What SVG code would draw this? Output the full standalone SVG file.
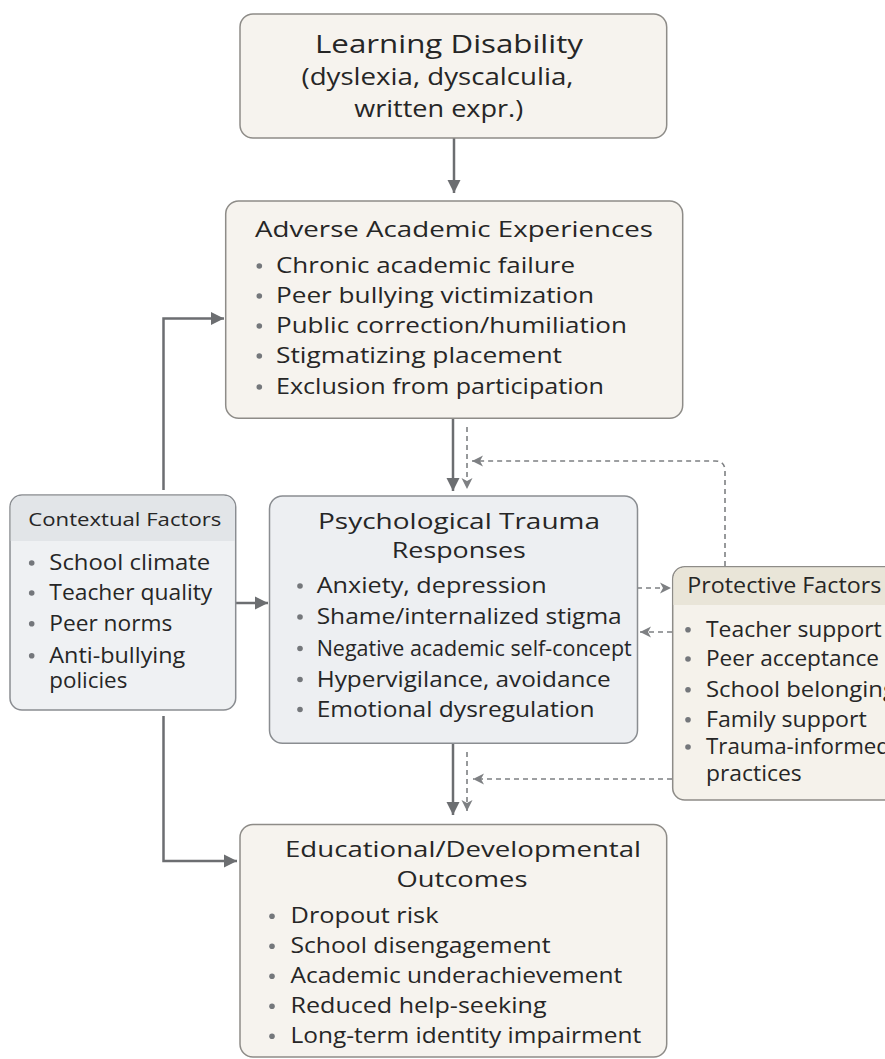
<svg xmlns="http://www.w3.org/2000/svg" width="885" height="1059" viewBox="0 0 885 1059">
<style>
  text { font-family: "Open Sans", "Noto Sans", "DejaVu Sans", sans-serif; fill: #262626; }
  .warm { fill: #f6f3ee; stroke: #8e8c88; stroke-width: 1.5; }
  .cool { fill: #edeff2; stroke: #8a8d91; stroke-width: 1.5; }
  .ctx { fill: #eff1f3; stroke: #8a8d91; stroke-width: 1.5; }
  .ctxh { fill: #e2e5e8; }
  .prot { fill: #f5f2eb; stroke: #8e8c88; stroke-width: 1.5; }
  .proth { fill: #e9e5d8; }
  .t1 { font-size: 25px; font-weight: 500; }
  .t2 { font-size: 23px; }
  .title { font-size: 22px; font-weight: 500; }
  .item { font-size: 21px; }
  .hdr { font-size: 19px; }
  .dot { fill: #74777b; }
  .solid { fill: none; stroke: #6c6e71; stroke-width: 2.5; }
  .dash { fill: none; stroke: #7e8083; stroke-width: 1.6; stroke-dasharray: 5 4; }
</style>
<defs>
  <marker id="arr" markerUnits="userSpaceOnUse" markerWidth="14" markerHeight="14" refX="13" refY="7" orient="auto">
    <path d="M0,0.5 L13,7 L0,13.5 z" fill="#6c6e71"/>
  </marker>
  <marker id="darr" markerUnits="userSpaceOnUse" markerWidth="12" markerHeight="12" refX="11" refY="6" orient="auto">
    <path d="M0,0.5 L11,6 L0,11.5 L3,6 z" fill="#7e8083"/>
  </marker>
</defs>
<rect width="885" height="1059" fill="#ffffff"/>

<g id="connectors">
  <line class="solid" x1="454" y1="138" x2="454" y2="193" marker-end="url(#arr)"/>
  <line class="solid" x1="453" y1="418" x2="453" y2="491" marker-end="url(#arr)"/>
  <line class="solid" x1="453" y1="743" x2="453" y2="815" marker-end="url(#arr)"/>
  <line class="dash" x1="467" y1="427" x2="467" y2="489" marker-end="url(#darr)"/>
  <line class="dash" x1="467" y1="752" x2="467" y2="811" marker-end="url(#darr)"/>
  <path class="dash" d="M725,566 V471 Q725,461 715,461 H472" marker-end="url(#darr)"/>
  <line class="dash" x1="672" y1="779" x2="473" y2="779" marker-end="url(#darr)"/>
  <circle cx="612" cy="588" r="3" fill="#6c6e71"/>
  <line x1="612" y1="588" x2="637" y2="588" stroke="#6c6e71" stroke-width="1.6"/>
  <line class="dash" x1="637" y1="588" x2="671" y2="588" marker-end="url(#darr)"/>
  <line class="dash" x1="672" y1="632" x2="640" y2="632" marker-end="url(#darr)"/>
  <path class="solid" d="M163.5,490 V318.5 H224" marker-end="url(#arr)"/>
  <path class="solid" d="M163.5,716 V861 H237" marker-end="url(#arr)"/>
  <line class="solid" x1="236" y1="603" x2="268" y2="603" marker-end="url(#arr)"/>
</g>

<g id="learning-disability">
  <rect class="warm" x="240" y="14" width="426.7" height="124" rx="13"/>
  <text class="t1" x="449" y="53" text-anchor="middle" textLength="268" lengthAdjust="spacingAndGlyphs">Learning Disability</text>
  <text class="t2" x="437.5" y="84.5" text-anchor="middle" textLength="272" lengthAdjust="spacingAndGlyphs">(dyslexia, dyscalculia,</text>
  <text class="t2" x="438.7" y="117" text-anchor="middle" textLength="169" lengthAdjust="spacingAndGlyphs">written expr.)</text>
</g>

<g id="adverse-experiences">
  <rect class="warm" x="225.7" y="201" width="457" height="217.3" rx="13"/>
  <text class="title" x="255" y="237" textLength="398" lengthAdjust="spacingAndGlyphs">Adverse Academic Experiences</text>
  <circle class="dot" cx="259.3" cy="266" r="2.8"/>
  <text class="item" x="276" y="273" textLength="299" lengthAdjust="spacingAndGlyphs">Chronic academic failure</text>
  <circle class="dot" cx="259.3" cy="296" r="2.8"/>
  <text class="item" x="276" y="303" textLength="318" lengthAdjust="spacingAndGlyphs">Peer bullying victimization</text>
  <circle class="dot" cx="259.3" cy="326" r="2.8"/>
  <text class="item" x="276" y="333" textLength="351" lengthAdjust="spacingAndGlyphs">Public correction/humiliation</text>
  <circle class="dot" cx="259.3" cy="356" r="2.8"/>
  <text class="item" x="276" y="363" textLength="286" lengthAdjust="spacingAndGlyphs">Stigmatizing placement</text>
  <circle class="dot" cx="259.3" cy="387" r="2.8"/>
  <text class="item" x="276" y="394" textLength="328" lengthAdjust="spacingAndGlyphs">Exclusion from participation</text>
</g>

<g id="contextual-factors">
  <rect class="ctx" x="10" y="495" width="225.7" height="215" rx="12"/>
  <path class="ctxh" d="M10.75,507 A11.25,11.25 0 0 1 22,495.75 H223.7 A11.25,11.25 0 0 1 234.95,507 V541 H10.75 z"/>
  <text class="hdr" x="28.3" y="525.7" textLength="193" lengthAdjust="spacingAndGlyphs">Contextual Factors</text>
  <circle class="dot" cx="31.7" cy="563" r="2.8"/>
  <text class="item" x="49.3" y="570" textLength="161" lengthAdjust="spacingAndGlyphs">School climate</text>
  <circle class="dot" cx="31.7" cy="593" r="2.8"/>
  <text class="item" x="49.3" y="600" textLength="163" lengthAdjust="spacingAndGlyphs">Teacher quality</text>
  <circle class="dot" cx="31.7" cy="623.7" r="2.8"/>
  <text class="item" x="49.3" y="630.7" textLength="123" lengthAdjust="spacingAndGlyphs">Peer norms</text>
  <circle class="dot" cx="31.7" cy="655.7" r="2.8"/>
  <text class="item" x="49.3" y="662.7" textLength="136" lengthAdjust="spacingAndGlyphs">Anti-bullying</text>
  <text class="item" x="49.3" y="688" textLength="78" lengthAdjust="spacingAndGlyphs">policies</text>
</g>

<g id="psychological-trauma">
  <rect class="cool" x="269.5" y="496" width="368" height="247.3" rx="13"/>
  <text class="title" x="459" y="529" text-anchor="middle" textLength="282" lengthAdjust="spacingAndGlyphs">Psychological Trauma</text>
  <text class="title" x="458.8" y="558" text-anchor="middle" textLength="134" lengthAdjust="spacingAndGlyphs">Responses</text>
  <circle class="dot" cx="300" cy="586" r="2.8"/>
  <text class="item" x="316.7" y="593" textLength="230" lengthAdjust="spacingAndGlyphs">Anxiety, depression</text>
  <circle class="dot" cx="300" cy="617" r="2.8"/>
  <text class="item" x="316.7" y="624" textLength="305" lengthAdjust="spacingAndGlyphs">Shame/internalized stigma</text>
  <circle class="dot" cx="300" cy="648.5" r="2.8"/>
  <text class="item" x="316.7" y="655.5" textLength="315" lengthAdjust="spacingAndGlyphs">Negative academic self-concept</text>
  <circle class="dot" cx="300" cy="679.5" r="2.8"/>
  <text class="item" x="316.7" y="686.5" textLength="294" lengthAdjust="spacingAndGlyphs">Hypervigilance, avoidance</text>
  <circle class="dot" cx="300" cy="709.5" r="2.8"/>
  <text class="item" x="316.7" y="716.5" textLength="278" lengthAdjust="spacingAndGlyphs">Emotional dysregulation</text>
</g>

<g id="protective-factors">
  <rect class="prot" x="672.7" y="566.7" width="240" height="233.3" rx="12"/>
  <path class="proth" d="M673.45,578.7 A11.25,11.25 0 0 1 684.7,567.45 H912 V605 H673.45 z"/>
  <text class="item" x="687.3" y="593.3" textLength="194" lengthAdjust="spacingAndGlyphs">Protective Factors</text>
  <circle class="dot" cx="688" cy="629.7" r="2.8"/>
  <text class="item" x="706" y="636.7" textLength="175.7" lengthAdjust="spacingAndGlyphs">Teacher support</text>
  <circle class="dot" cx="688" cy="659" r="2.8"/>
  <text class="item" x="706" y="666" textLength="173" lengthAdjust="spacingAndGlyphs">Peer acceptance</text>
  <circle class="dot" cx="688" cy="689.7" r="2.8"/>
  <text class="item" x="706" y="696.7" textLength="190" lengthAdjust="spacingAndGlyphs">School belonging</text>
  <circle class="dot" cx="688" cy="719.7" r="2.8"/>
  <text class="item" x="706" y="726.7" textLength="160.7" lengthAdjust="spacingAndGlyphs">Family support</text>
  <circle class="dot" cx="688" cy="747" r="2.8"/>
  <text class="item" x="706" y="754" textLength="184" lengthAdjust="spacingAndGlyphs">Trauma-informed</text>
  <text class="item" x="706" y="781" textLength="95.7" lengthAdjust="spacingAndGlyphs">practices</text>
</g>

<g id="outcomes">
  <rect class="warm" x="240" y="824.5" width="426.7" height="232.5" rx="13"/>
  <text class="title" x="463" y="856.5" text-anchor="middle" textLength="356" lengthAdjust="spacingAndGlyphs">Educational/Developmental</text>
  <text class="title" x="462" y="886.5" text-anchor="middle" textLength="131" lengthAdjust="spacingAndGlyphs">Outcomes</text>
  <circle class="dot" cx="272" cy="916.3" r="2.8"/>
  <text class="item" x="290.5" y="923.3" textLength="148" lengthAdjust="spacingAndGlyphs">Dropout risk</text>
  <circle class="dot" cx="272" cy="946.3" r="2.8"/>
  <text class="item" x="290.5" y="953.3" textLength="260" lengthAdjust="spacingAndGlyphs">School disengagement</text>
  <circle class="dot" cx="272" cy="976.3" r="2.8"/>
  <text class="item" x="290.5" y="983.3" textLength="331.7" lengthAdjust="spacingAndGlyphs">Academic underachievement</text>
  <circle class="dot" cx="272" cy="1006.3" r="2.8"/>
  <text class="item" x="290.5" y="1013.3" textLength="256" lengthAdjust="spacingAndGlyphs">Reduced help-seeking</text>
  <circle class="dot" cx="272" cy="1036.3" r="2.8"/>
  <text class="item" x="290.5" y="1043.3" textLength="350.7" lengthAdjust="spacingAndGlyphs">Long-term identity impairment</text>
</g>
</svg>
